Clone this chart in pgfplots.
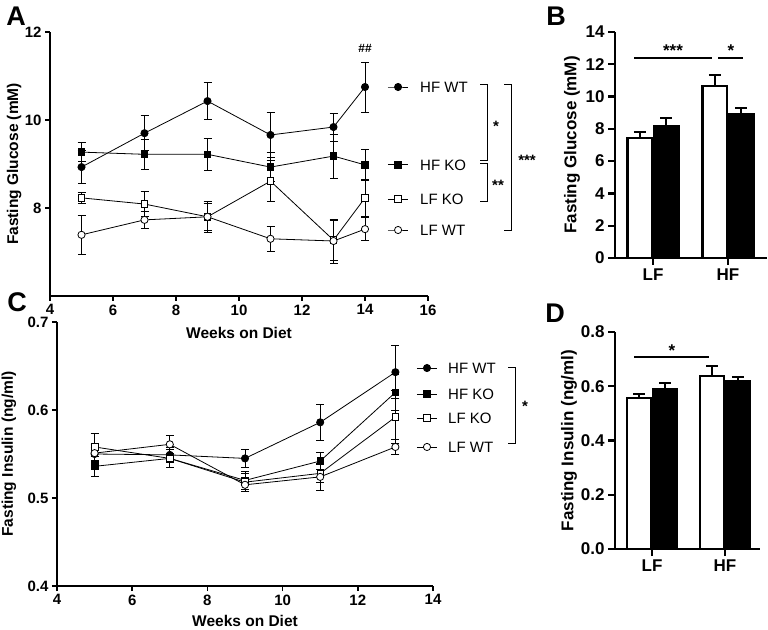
\documentclass[border=0pt]{standalone}
\usepackage{pgfplots}
\pgfplotsset{compat=1.18}
\usepackage{fontspec}
\setmainfont{Liberation Sans}
\newcommand{\fs}[1]{\fontsize{#1}{#1}\selectfont}

\pgfplotstableread{
x y e
5 8.93 0.38
7 9.70 0.40
9 10.43 0.42
11 9.66 0.52
13 9.84 0.32
14 10.75 0.57
}\AhfWT
\pgfplotstableread{
x y e
5 9.27 0.22
7 9.22 0.35
9 9.22 0.37
11 8.93 0.33
13 9.18 0.50
14 8.98 0.35
}\AhfKO
\pgfplotstableread{
x y e
5 8.23 0.12
7 8.09 0.28
9 7.80 0.35
11 8.61 0.47
13 7.27 0.45
14 8.23 0.43
}\AlfKO
\pgfplotstableread{
x y e
5 7.39 0.44
7 7.73 0.20
9 7.80 0.30
11 7.30 0.28
13 7.25 0.50
14 7.52 0.26
}\AlfWT

\pgfplotstableread{
x y e
5 0.550 0.008
7 0.549 0.008
9 0.545 0.010
11 0.586 0.020
13 0.643 0.030
}\ChfWT
\pgfplotstableread{
x y e
5 0.536 0.011
7 0.545 0.010
9 0.520 0.010
11 0.542 0.010
13 0.620 0.020
}\ChfKO
\pgfplotstableread{
x y e
5 0.558 0.015
7 0.545 0.010
9 0.518 0.010
11 0.528 0.010
13 0.592 0.030
}\ClfKO
\pgfplotstableread{
x y e
5 0.551 0.010
7 0.561 0.010
9 0.515 0.008
11 0.524 0.015
13 0.558 0.009
}\ClfWT

\pgfplotsset{
 gp/.style={scale only axis, axis x line=bottom, axis y line=left,
   axis line style={-, line width=1.6pt}, tick style={line width=1.6pt, black},
   tick align=outside, major tick length=5pt, minor tick num=0,
   tick label style={font=\fs{15}\bfseries},
   label style={font=\fs{15.5}\bfseries},
   /pgf/number format/assume math mode=true, clip=false},
 gb/.style={scale only axis, axis x line=bottom, axis y line=left,
   axis line style={-, line width=2.4pt}, tick style={line width=2.4pt, black},
   tick align=outside, major tick length=7pt, minor tick num=0,
   tick label style={font=\fs{17}\bfseries},
   label style={font=\fs{17}\bfseries},
   /pgf/number format/assume math mode=true, clip=false},
 ln/.style={black, line width=0.8pt},
 eb/.style={error bars/.cd, y dir=both, y explicit, error bar style={line width=0.8pt}, error mark options={rotate=90, mark size=4pt, line width=0.8pt}},
 hfwt/.style={ln, mark=*, mark size=3.6pt, mark options={solid, fill=black, line width=0.8pt}},
 lfwt/.style={ln, mark=*, mark size=3.6pt, mark options={solid, fill=white, line width=0.8pt}},
 hfko/.style={ln, mark=square*, mark size=3.3pt, mark options={solid, fill=black, line width=0.8pt}},
 lfko/.style={ln, mark=square*, mark size=3.3pt, mark options={solid, fill=white, line width=0.8pt}},
 wbar/.style={ybar, fill=white, draw=black, line width=2.2pt, bar width=0.33, bar shift=0pt,
   error bars/.cd, y dir=plus, y explicit, error bar style={line width=2.2pt}, error mark options={rotate=90, mark size=6pt, line width=2.2pt}},
 bbar/.style={ybar, fill=black, draw=black, line width=2.2pt, bar width=0.33, bar shift=0pt,
   error bars/.cd, y dir=plus, y explicit, error bar style={line width=2.2pt}, error mark options={rotate=90, mark size=6pt, line width=2.2pt}},
}

\begin{document}
\begin{tikzpicture}[x=1pt,y=1pt]
\useasboundingbox (0pt,0pt) rectangle (768pt,629pt);

% ---------- Panel A ----------
\begin{axis}[gp, at={(50pt,333pt)}, anchor=south west, width=378pt, height=264pt,
  xmin=4, xmax=16, ymin=6, ymax=12, xtick={4,6,...,16}, ytick={8,10,12},
  xlabel={Weeks on Diet}, ylabel={Fasting Glucose (mM)},
  xlabel style={at={(axis description cs:0.5,-0.140)}, anchor=center},
  ylabel style={at={(axis description cs:-0.095,0.5)}, anchor=center}]
\addplot[hfwt, eb] table[x=x, y=y, y error=e] {\AhfWT};
\addplot[hfko, eb] table[x=x, y=y, y error=e] {\AhfKO};
\addplot[lfko, eb] table[x=x, y=y, y error=e] {\AlfKO};
\addplot[lfwt, eb] table[x=x, y=y, y error=e] {\AlfWT};
% legend samples
\addplot[hfwt, mark indices={2}] coordinates {(14.73,10.75) (15.05,10.75) (15.37,10.75)};
\addplot[hfko, mark indices={2}] coordinates {(14.73,8.98) (15.05,8.98) (15.37,8.98)};
\addplot[lfko, mark indices={2}] coordinates {(14.73,8.20) (15.05,8.20) (15.37,8.20)};
\addplot[lfwt, mark indices={2}] coordinates {(14.73,7.50) (15.05,7.50) (15.37,7.50)};
\end{axis}
\node[anchor=west, inner sep=0pt, font=\fs{15}] at (420pt,542pt) {HF WT};
\node[anchor=west, inner sep=0pt, font=\fs{15}] at (420pt,464pt) {HF KO};
\node[anchor=west, inner sep=0pt, font=\fs{15}] at (420pt,430pt) {LF KO};
\node[anchor=west, inner sep=0pt, font=\fs{15}] at (420pt,399pt) {LF WT};
\draw[line width=0.9pt] (480pt,545pt) -- (487pt,545pt) -- (487pt,469pt) -- (480pt,469pt);
\draw[line width=0.9pt] (480pt,466pt) -- (487pt,466pt) -- (487pt,428pt) -- (480pt,428pt);
\draw[line width=0.9pt] (504pt,545pt) -- (511pt,545pt) -- (511pt,399pt) -- (504pt,399pt);
\node[font=\fs{15}\bfseries] at (496pt,503pt) {*};
\node[font=\fs{15}\bfseries] at (498pt,444pt) {**};
\node[font=\fs{15}\bfseries] at (527pt,469pt) {***};
\node[font=\fs{12}\bfseries] at (365pt,581pt) {\#\#};
\node[font=\fs{27}\bfseries] at (16pt,613pt) {A};

% ---------- Panel C ----------
\begin{axis}[gp, at={(57pt,43pt)}, anchor=south west, width=376pt, height=264pt,
  xmin=4, xmax=14, ymin=0.4, ymax=0.7, xtick={4,6,...,14}, ytick={0.4,0.5,0.6,0.7},
  yticklabel style={/pgf/number format/.cd, fixed, fixed zerofill, precision=1},
  xlabel={Weeks on Diet}, ylabel={Fasting Insulin (ng/ml)},
  xlabel style={at={(axis description cs:0.5,-0.133)}, anchor=center},
  ylabel style={at={(axis description cs:-0.128,0.5)}, anchor=center}]
\addplot[hfwt, eb] table[x=x, y=y, y error=e] {\ChfWT};
\addplot[hfko, eb] table[x=x, y=y, y error=e] {\ChfKO};
\addplot[lfko, eb] table[x=x, y=y, y error=e] {\ClfKO};
\addplot[lfwt, eb] table[x=x, y=y, y error=e] {\ClfWT};
\addplot[hfwt, mark indices={2}] coordinates {(13.57,0.6477) (13.84,0.6477) (14.11,0.6477)};
\addplot[hfko, mark indices={2}] coordinates {(13.57,0.618) (13.84,0.618) (14.11,0.618)};
\addplot[lfko, mark indices={2}] coordinates {(13.57,0.591) (13.84,0.591) (14.11,0.591)};
\addplot[lfwt, mark indices={2}] coordinates {(13.57,0.558) (13.84,0.558) (14.11,0.558)};
\end{axis}
\node[anchor=west, inner sep=0pt, font=\fs{15}] at (448pt,261pt) {HF WT};
\node[anchor=west, inner sep=0pt, font=\fs{15}] at (448pt,235pt) {HF KO};
\node[anchor=west, inner sep=0pt, font=\fs{15}] at (448pt,211pt) {LF KO};
\node[anchor=west, inner sep=0pt, font=\fs{15}] at (448pt,182pt) {LF WT};
\draw[line width=0.9pt] (508pt,262pt) -- (515pt,262pt) -- (515pt,186pt) -- (508pt,186pt);
\node[font=\fs{15}\bfseries] at (525pt,223pt) {*};
\node[font=\fs{27}\bfseries] at (17pt,327pt) {C};

% ---------- Panel B ----------
\begin{axis}[gb, at={(615pt,371pt)}, anchor=south west, width=152pt, height=226pt,
  xmin=-0.507, xmax=1.52, ymin=0, ymax=14, ytick={0,2,...,14},
  xtick={0,1}, xticklabels={LF,HF},
  ylabel={Fasting Glucose (mM)},
  ylabel style={at={(axis description cs:-0.283,0.5)}, anchor=center}]
\addplot[wbar] coordinates {(-0.175,7.45) +- (0,0.35) (0.825,10.67) +- (0,0.68)};
\addplot[bbar] coordinates {(0.175,8.20) +- (0,0.49) (1.175,8.94) +- (0,0.37)};
\end{axis}
\draw[line width=2.6pt] (634pt,571pt) -- (712pt,571pt);
\draw[line width=2.6pt] (718pt,571pt) -- (743pt,571pt);
\node[font=\fs{17}\bfseries] at (673pt,578pt) {***};
\node[font=\fs{17}\bfseries] at (731pt,578pt) {*};
\node[font=\fs{27}\bfseries] at (556pt,613pt) {B};

% ---------- Panel D ----------
\begin{axis}[gb, at={(615pt,80pt)}, anchor=south west, width=145pt, height=217pt,
  xmin=-0.507, xmax=1.48, ymin=0, ymax=0.8, ytick={0,0.2,...,0.8},
  yticklabel style={/pgf/number format/.cd, fixed, fixed zerofill, precision=1},
  xtick={0,1}, xticklabels={LF,HF},
  ylabel={Fasting Insulin (ng/ml)},
  ylabel style={at={(axis description cs:-0.317,0.5)}, anchor=center}]
\addplot[wbar] coordinates {(-0.175,0.556) +- (0,0.015) (0.825,0.638) +- (0,0.037)};
\addplot[bbar] coordinates {(0.175,0.589) +- (0,0.023) (1.175,0.619) +- (0,0.015)};
\end{axis}
\draw[line width=2.4pt] (634pt,272pt) -- (709pt,272pt);
\node[font=\fs{17}\bfseries] at (672pt,278pt) {*};
\node[font=\fs{27}\bfseries] at (555pt,316pt) {D};
\end{tikzpicture}
\end{document}
